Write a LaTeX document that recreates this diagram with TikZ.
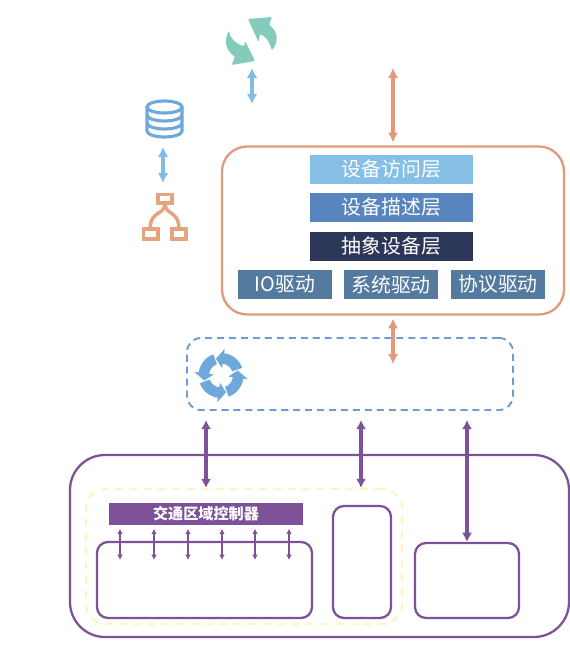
\documentclass[tikz,border=0pt]{standalone}
\usepackage{fontspec}
\setmainfont{Noto Sans CJK SC}
\usetikzlibrary{arrows.meta,positioning}
\definecolor{orangeline}{HTML}{E2997A}
\definecolor{iconorange}{HTML}{E3A57F}
\definecolor{skyline}{HTML}{7FBDE8}
\definecolor{iconblue}{HTML}{6FA8DC}
\definecolor{dashblue}{HTML}{6E9BD0}
\definecolor{purpleline}{HTML}{7D5299}
\definecolor{synccol}{HTML}{85CBBB}
\definecolor{dashyellow}{HTML}{FBF6BE}
\definecolor{accessblue}{HTML}{86BFE6}
\definecolor{descrblue}{HTML}{5885BE}
\definecolor{abstrnavy}{HTML}{2C3659}
\definecolor{driverblue}{HTML}{557AA0}
\begin{document}
\begin{tikzpicture}[
  layer/.style={minimum width=1.63cm,minimum height=.29cm,inner sep=0,text=white,font=\fontsize{5.65}{6}\selectfont},
  driver/.style={layer,minimum width=.94cm,fill=driverblue},
  frame/.style={draw,rounded corners=.11cm,line width=.65pt,inner sep=0},
  ghost/.style={text=white,inner sep=0,align=center,font=\fontsize{5.5}{6.8}\selectfont},
  ghostv/.style={text=white,inner sep=0,align=center,font=\fontsize{3.1}{3.3}\selectfont},
  flowo/.style={<->,>={Latex[length=2.8pt,width=2.9pt]},orangeline,line width=.9pt},
  flowb/.style={<->,>={Latex[length=2.8pt,width=3pt]},skyline,line width=.95pt},
  flowp/.style={<->,>={Latex[length=2.6pt,width=2.9pt]},purpleline,line width=.9pt},
  flows/.style={<->,>={Latex[length=1.5pt,width=1.6pt]},purpleline,line width=.4pt,shorten <=.03cm}
]
\useasboundingbox (0,0) rectangle (5.7,-6.59);

% top platform and business box
\node[minimum size=.5cm,inner sep=0] (syncicon) at (2.52,-.41) {};
\node[ghost,anchor=west] (dataplat) at (3.02,-.42) {数据交互平台};
\node[ghost,font=\fontsize{4.8}{6}\selectfont,anchor=west] (buscmd) at (4.10,-1.00) {业务指令};
\node[minimum size=.38cm,inner sep=0] (dbicon) at (1.645,-1.19) {};
\node[ghost,anchor=west] (metaspace) at (2.03,-1.18) {元数据空间};
\node[minimum width=.45cm,minimum height=.47cm,inner sep=0] (treeicon) at (1.645,-2.165) {};
\node[ghost] (storeplat) at (1.635,-2.70) {统一的数据\\存储平台};

\node[frame,draw=orangeline,rounded corners=.25cm,minimum width=3.42cm,minimum height=1.68cm,outer sep=.04cm] (devbox) at (3.93,-2.305) {};
\node[layer,fill=accessblue] (access) at (3.915,-1.695) {设备访问层};
\node[layer,fill=descrblue] (descr) at (3.915,-2.075) {设备描述层};
\node[layer,fill=abstrnavy] (abstr) at (3.915,-2.465) {抽象设备层};
\node[driver] (iodrv) at (2.85,-2.845) {IO驱动};
\node[driver] (sysdrv) at (3.91,-2.845) {系统驱动};
\node[driver] (protodrv) at (4.98,-2.845) {协议驱动};

% gateway
\node[draw=dashblue,dash pattern=on 2pt off 1.4pt,line width=.55pt,rounded corners=.14cm,minimum width=3.26cm,minimum height=.72cm,inner sep=0] (gateway) at (3.50,-3.74) {};
\node[minimum size=.5cm,inner sep=0] (loopicon) at (2.21,-3.755) {};
\node[ghost,anchor=west] (gwtext) at (2.58,-3.75) {统一的融合干线协同指挥平台};
\node[ghost] (gwside) at (5.45,-3.81) {网\\关};

% field side
\node[draw=purpleline,rounded corners=.35cm,line width=.65pt,minimum width=4.99cm,minimum height=1.82cm,inner sep=0] (fieldbox) at (3.195,-5.46) {};
\node[ghost] (fieldside) at (5.45,-5.00) {感\\知\\层};
\node[draw=dashyellow,dash pattern=on 2.2pt off 1.9pt,line width=.6pt,rounded corners=.2cm,minimum width=3.16cm,minimum height=1.35cm,inner sep=0] (zone) at (2.44,-5.565) {};
\node[fill=purpleline,text=white,minimum width=1.94cm,minimum height=.22cm,inner sep=0,font=\fontsize{4.3}{5}\selectfont\bfseries] (zonetitle) at (2.06,-5.14) {交通区域控制器};
\node[frame,draw=purpleline,minimum width=2.15cm,minimum height=.76cm] (box1) at (2.045,-5.80) {};
\node[frame,draw=purpleline,minimum width=.58cm,minimum height=1.12cm] (box2) at (3.62,-5.62) {};
\node[frame,draw=purpleline,minimum width=1.04cm,minimum height=.75cm] (box3) at (4.67,-5.805) {};

\node[ghostv,anchor=north] (dev1) at (1.20,-5.60) {卡\\口\\设\\备};
\node[ghostv,anchor=north] (dev2) at (1.54,-5.60) {电\\警\\设\\备};
\node[ghostv,anchor=north] (dev3) at (1.88,-5.60) {视\\频\\监\\控};
\node[ghostv,anchor=north] (dev4) at (2.22,-5.60) {交\\通\\诱\\导};
\node[ghostv,anchor=north] (dev5) at (2.55,-5.60) {流\\量\\检\\测};
\node[ghostv,anchor=north] (dev6) at (2.89,-5.60) {信\\号\\机};
\node[ghostv] (edge1) at (3.51,-5.61) {边\\缘\\计\\算\\控\\制\\设\\备};
\node[ghostv] (edge2) at (3.78,-5.62) {路\\侧\\设\\备};
\node[ghostv] (sense1) at (4.33,-5.80) {气\\象\\设\\备};
\node[ghostv] (sense2) at (4.66,-5.79) {传\\感\\器};
\node[ghostv] (sense3) at (5.00,-5.80) {环\\境\\监\\测};

% free ends of connectors
\coordinate (syncend) at (2.52,-.68);
\coordinate (metaend) at (2.52,-1.04);
\coordinate (busend) at (3.93,-.68);
\coordinate (gatein) at (3.93,-3.64);
\coordinate (gwa) at (2.06,-4.20);
\coordinate (gwb) at (3.61,-4.20);
\coordinate (gwc) at (4.67,-4.20);
\coordinate (dbend) at (1.63,-1.47);
\coordinate (treeend) at (1.63,-1.83);

\draw[flowb] (syncend) -- (metaend);
\draw[flowb] (dbend) -- (treeend);
\draw[flowo] (busend) -- (devbox.north);
\draw[flowo] (devbox.south) -- (gatein);
\draw[flowp] (gwa) -- (gwa |- zone.north);
\draw[flowp] (gwb) -- (gwb |- zone.north);
\draw[flowp] (gwc) -- (box3.north);
\foreach \n in {1,...,6}
  \draw[flows] (zonetitle.south -| dev\n) -- (dev\n.north);

% icons
\fill[synccol,rounded corners=.3pt] (2.48,-.19) -- (2.72,-.17) -- (2.69,-.25) .. controls (2.78,-.31) and (2.79,-.42) .. (2.717,-.505) .. controls (2.70,-.42) and (2.66,-.37) .. (2.60,-.34) -- (2.585,-.42) -- cycle;
\fill[synccol,rounded corners=.3pt] (2.55,-.61) -- (2.317,-.65) -- (2.35,-.567) .. controls (2.25,-.50) and (2.24,-.40) .. (2.29,-.307) .. controls (2.30,-.38) and (2.35,-.43) .. (2.44,-.465) -- (2.45,-.41) -- cycle;

\begin{scope}[shift={(loopicon.center)}]
\foreach \a in {17,107,197,287}
  \fill[iconblue] (\a-87:.225) arc[start angle=\a-87,end angle=\a-25,radius=.225] -- (\a-25:.27) -- (\a:.175) -- (\a-25:.075) -- (\a-25:.12) arc[start angle=\a-25,end angle=\a-87,radius=.12] -- cycle;
\end{scope}

\draw[iconblue,line width=.9pt] (1.645,-1.07) ellipse[x radius=.175,y radius=.06];
\draw[iconblue,line width=.9pt] (1.47,-1.07) -- (1.47,-1.31) arc[start angle=180,end angle=360,x radius=.175,y radius=.06] -- (1.82,-1.07);
\draw[iconblue,line width=.9pt] (1.47,-1.15) arc[start angle=180,end angle=360,x radius=.175,y radius=.06];
\draw[iconblue,line width=.9pt] (1.47,-1.23) arc[start angle=180,end angle=360,x radius=.175,y radius=.06];

\draw[iconorange,line width=1pt] (1.58,-1.945) rectangle (1.72,-2.03);
\draw[iconorange,line width=1pt] (1.435,-2.29) rectangle (1.58,-2.39);
\draw[iconorange,line width=1pt] (1.72,-2.29) rectangle (1.86,-2.39);
\draw[iconorange,line width=1pt] (1.65,-2.03) .. controls (1.65,-2.16) and (1.50,-2.10) .. (1.50,-2.29);
\draw[iconorange,line width=1pt] (1.65,-2.03) .. controls (1.65,-2.16) and (1.79,-2.10) .. (1.79,-2.29);
\end{tikzpicture}
\end{document}
